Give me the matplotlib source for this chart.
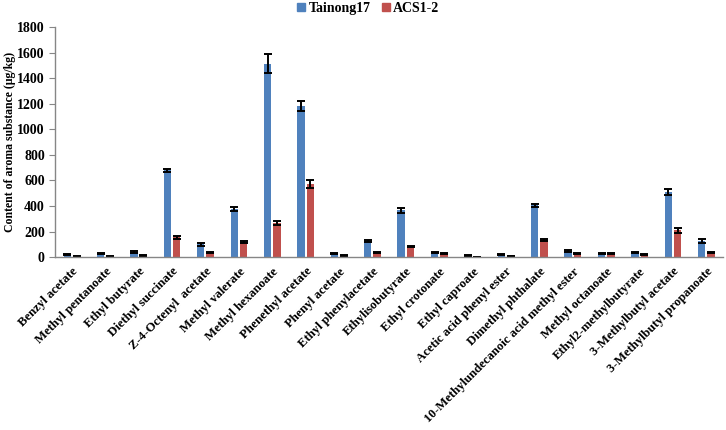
import matplotlib

matplotlib.use("Agg")
import matplotlib.pyplot as plt  # noqa: E402
import numpy as np  # noqa: E402
from matplotlib.lines import Line2D  # noqa: E402

plt.rcParams["font.family"] = ["Liberation Serif", "DejaVu Serif"]
plt.rcParams["font.weight"] = "bold"

compounds = ["Benzyl acetate", "Methyl pentanoate", "Ethyl butyrate",
             "Diethyl succinate", "Z-4-Octenyl  acetate", "Methyl valerate",
             "Methyl hexanoate", "Phenethyl acetate", "Phenyl acetate",
             "Ethyl phenylacetate", "Ethylisobutyrate", "Ethyl crotonate",
             "Ethyl caproate", "Acetic acid phenyl ester", "Dimethyl phthalate",
             "10-Methylundecanoic acid methyl ester", "Methyl octanoate",
             "Ethyl2-methylbutyrate", "3-Methylbutyl acetate",
             "3-Methylbutyl propanoate"]
tainong17 = [18, 26, 42, 681, 99, 375, 1515, 1185, 26, 125,
             365, 39, 10, 21, 405, 47, 28, 34, 508, 128]
tainong17_err = [5, 5, 6, 12, 8, 15, 78, 38, 4, 10,
                 16, 5, 3, 4, 14, 6, 4, 5, 22, 14]
acs12 = [5, 6, 10, 154, 37, 117, 268, 572, 10, 37,
         81, 31, 4, 8, 133, 26, 31, 24, 209, 39]
acs12_err = [2, 3, 3, 14, 5, 7, 15, 28, 3, 4,
             5, 4, 1, 2, 10, 4, 5, 4, 22, 5]

BLUE, RED = "#4f81bd", "#c0504d"

fig = plt.figure(figsize=(7.26, 4.30), dpi=100)
ax = fig.add_axes([0.076, 0.402, 0.920, 0.535])

x = np.arange(len(compounds))
w, off = 0.22, 0.14
err_kw = dict(ecolor="black", elinewidth=1.4, capsize=2.8, capthick=1.4)
ax.bar(x - off, tainong17, w, color=BLUE, yerr=tainong17_err,
       error_kw=err_kw, zorder=2)
ax.bar(x + off, acs12, w, color=RED, yerr=acs12_err,
       error_kw=err_kw, zorder=2)

ax.set_xlim(-0.5, len(compounds) - 0.5)
ax.set_ylim(0, 1800)
ax.set_yticks(np.arange(0, 1801, 200))
ax.set_xticks(x)
ax.set_xticklabels(compounds, rotation=45, ha="right", rotation_mode="anchor",
                   fontsize=9.2, fontweight="bold")
ax.tick_params(axis="x", length=0, pad=6)
ax.tick_params(axis="y", labelsize=10, length=4, color="#868686")
for t in ax.get_yticklabels():
    t.set_fontweight("bold")
ax.set_ylabel("Content of aroma substance (μg/kg)", fontsize=8.5,
              fontweight="bold", va="center")
ax.yaxis.set_label_coords(-0.068, 0.5)

for side in ("top", "right"):
    ax.spines[side].set_visible(False)
for side in ("left", "bottom"):
    ax.spines[side].set_color("#868686")
    ax.spines[side].set_linewidth(1.0)

handles = [Line2D([], [], ls="none", marker="s", markersize=5.5, color=BLUE),
           Line2D([], [], ls="none", marker="s", markersize=5.5, color=RED)]
fig.legend(handles, ["Tainong17", "ACS1-2"], loc="upper center",
           bbox_to_anchor=(0.505, 1.025), ncol=2, frameon=False,
           prop={"size": 10, "weight": "bold"}, handletextpad=0.05,
           handlelength=1.0, columnspacing=0.6)

fig.savefig("out.png", dpi=100)
